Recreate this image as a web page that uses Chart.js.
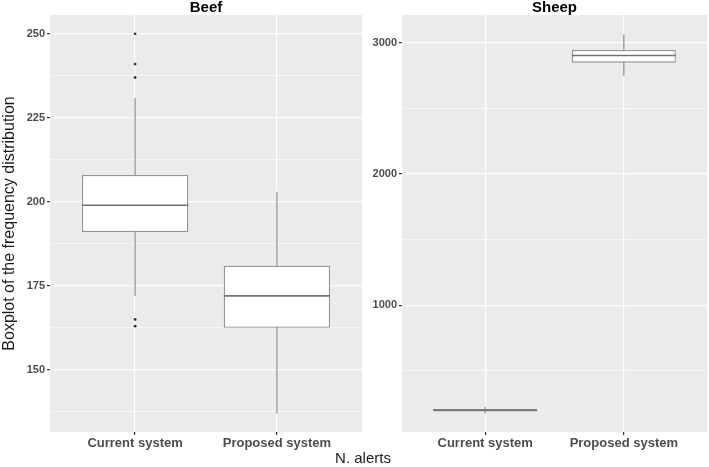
<!DOCTYPE html>
<html>
<head>
<meta charset="utf-8">
<script src="https://cdn.jsdelivr.net/npm/chart.js@4/dist/chart.umd.min.js"></script>
<style>
    body { margin: 0; background: #ffffff; }
    #wrap { position: relative; width: 709px; height: 467px; font-family: "Liberation Sans", Arial, sans-serif; }
    #beef_chart  { position: absolute; left: 0;     top: 0; }
    #sheep_chart { position: absolute; left: 362px; top: 0; }
    #x_title { position: absolute; left: 313px; top: 450px; width: 100px; text-align: center;
               font-size: 15px; line-height: 15px; color: #1a1a1a; }
</style>
</head>
<body>
<div id="wrap">
    <canvas id="beef_chart" width="366" height="467"></canvas>
    <canvas id="sheep_chart" width="347" height="467"></canvas>
    <div id="x_title">N. alerts</div>
</div>
<script>
const categories    = ["Current system", "Proposed system"];

// Beef
const beef_low      = [172, 137];
const beef_q1       = [191, 162.5];
const beef_median   = [199, 172];
const beef_q3       = [208, 181];
const beef_high     = [231, 203];
const beef_outliers = [[250, 241, 237, 165, 163], []];

// Sheep
const sheep_low      = [176, 2744];
const sheep_q1       = [192, 2848];
const sheep_median   = [201, 2903];
const sheep_q3       = [210, 2944];
const sheep_high     = [228, 3065];
const sheep_outliers = [[], []];

const box_line  = "#959595";
const tick_text = "#4d4d4d";

// panel background, whiskers and medians
const box_parts = {
    id: "box_parts",
    beforeDraw(chart) {
        const a   = chart.chartArea;
        const ctx = chart.ctx;
        ctx.save();
        ctx.fillStyle = "#ebebeb";
        ctx.fillRect(a.left, a.top, a.right - a.left, a.bottom - a.top);
        ctx.restore();
    },
    beforeDatasetsDraw(chart, args, opts) {
        const x   = chart.scales.x;
        const y   = chart.scales.y;
        const ctx = chart.ctx;
        ctx.save();
        ctx.strokeStyle = box_line;
        ctx.lineWidth   = 1.3;
        for (let i = 0; i < opts.low.length; i++) {
            let px = x.getPixelForValue(i + 1);
            ctx.beginPath();
            ctx.moveTo(px, y.getPixelForValue(opts.low[i]));
            ctx.lineTo(px, y.getPixelForValue(opts.high[i]));
            ctx.stroke();
        }
        ctx.restore();
    },
    afterDatasetsDraw(chart, args, opts) {
        const x   = chart.scales.x;
        const y   = chart.scales.y;
        const ctx = chart.ctx;
        const half = (x.getPixelForValue(1.375) - x.getPixelForValue(1));
        ctx.save();
        ctx.strokeStyle = "#737373";
        ctx.lineWidth   = 1.6;
        for (let i = 0; i < opts.median.length; i++) {
            let px = x.getPixelForValue(i + 1);
            let py = y.getPixelForValue(opts.median[i]);
            ctx.beginPath();
            ctx.moveTo(px - half, py);
            ctx.lineTo(px + half, py);
            ctx.stroke();
        }
        ctx.restore();
    }
};

function make_panel(canvas_id, title, low, q1, median, q3, high, outliers, y_cfg) {

    let boxes  = [];
    let points = [];
    for (let i = 0; i < categories.length; i++) {
        boxes.push({ x: i + 1, y: [q1[i], q3[i]] });
        for (let o of outliers[i]) {
            points.push({ x: i + 1, y: o });
        }
    }

    // major ticks on step, minor ones half way
    const half_step = y_cfg.step / 2;
    let y_ticks = [];
    for (let v = Math.ceil(y_cfg.min / half_step) * half_step; v <= y_cfg.max; v += half_step) {
        y_ticks.push({ value: v });
    }

    const ctx = document.getElementById(canvas_id).getContext("2d");
    return new Chart(ctx, {
        type: "bar",
        data: {
            datasets: [{
                data: boxes,
                backgroundColor: "#ffffff",
                borderColor: box_line,
                borderWidth: 1.3,
                borderSkipped: false,
                barPercentage: 0.75,
                categoryPercentage: 1,
                order: 2
            }, {
                type: "scatter",
                data: points,
                pointRadius: 1.4,
                pointBackgroundColor: "#333333",
                pointBorderWidth: 0,
                order: 1
            }]
        },
        options: {
            responsive: false,
            animation: false,
            layout: { padding: { top: 0, left: 0, bottom: 0, right: y_cfg.pad_right } },
            scales: {
                x: {
                    type: "linear",
                    min: 0.4,
                    max: 2.6,
                    offset: false,
                    afterBuildTicks: function(scale) {
                        scale.ticks = categories.map((c, i) => ({ value: i + 1 }));
                    },
                    afterFit: function(scale) { scale.height = 35; },
                    ticks: {
                        autoSkip: false,
                        maxRotation: 0,
                        padding: 1,
                        color: tick_text,
                        font: { family: "Liberation Sans", size: 13, weight: "bold" },
                        callback: (v) => categories[v - 1]
                    },
                    grid: { offset: false, color: "#ffffff", lineWidth: 1.2, tickLength: 3, tickColor: "#333333" },
                    border: { display: false }
                },
                y: {
                    min: y_cfg.min,
                    max: y_cfg.max,
                    afterBuildTicks: function(scale) { scale.ticks = y_ticks; },
                    afterFit: function(scale) { scale.width = y_cfg.width; },
                    title: {
                        display: y_cfg.title !== "",
                        text: y_cfg.title,
                        color: "#1a1a1a",
                        padding: 0,
                        font: { family: "Liberation Sans", size: 16 }
                    },
                    ticks: {
                        autoSkip: false,
                        padding: 2,
                        color: tick_text,
                        font: { family: "Liberation Sans", size: 11, weight: "bold" },
                        callback: (v) => (v % y_cfg.step === 0 ? v : "")
                    },
                    grid: {
                        color: "#ffffff",
                        lineWidth: (c) => (c.tick && c.tick.value % y_cfg.step === 0 ? 1.2 : 0.6),
                        tickLength: 3,
                        tickColor: (c) => (c.tick && c.tick.value % y_cfg.step === 0 ? "#333333" : "rgba(0,0,0,0)")
                    },
                    border: { display: false }
                }
            },
            plugins: {
                legend: { display: false },
                tooltip: { enabled: false },
                title: {
                    display: true,
                    text: title,
                    fullSize: false,
                    color: "#000000",
                    padding: 0,
                    font: { family: "Liberation Sans", size: 15, weight: "bold", lineHeight: 1 }
                },
                box_parts: { low: low, median: median, high: high }
            }
        },
        plugins: [box_parts]
    });
}

make_panel("beef_chart", "Beef", beef_low, beef_q1, beef_median, beef_q3, beef_high, beef_outliers,
    { min: 131.5, max: 255.6, step: 25, width: 50, pad_right: 0, title: "Boxplot of the frequency distribution" });

make_panel("sheep_chart", "Sheep", sheep_low, sheep_q1, sheep_median, sheep_q3, sheep_high, sheep_outliers,
    { min: 35, max: 3211, step: 1000, width: 40, pad_right: 2, title: "" });
</script>
</body>
</html>
